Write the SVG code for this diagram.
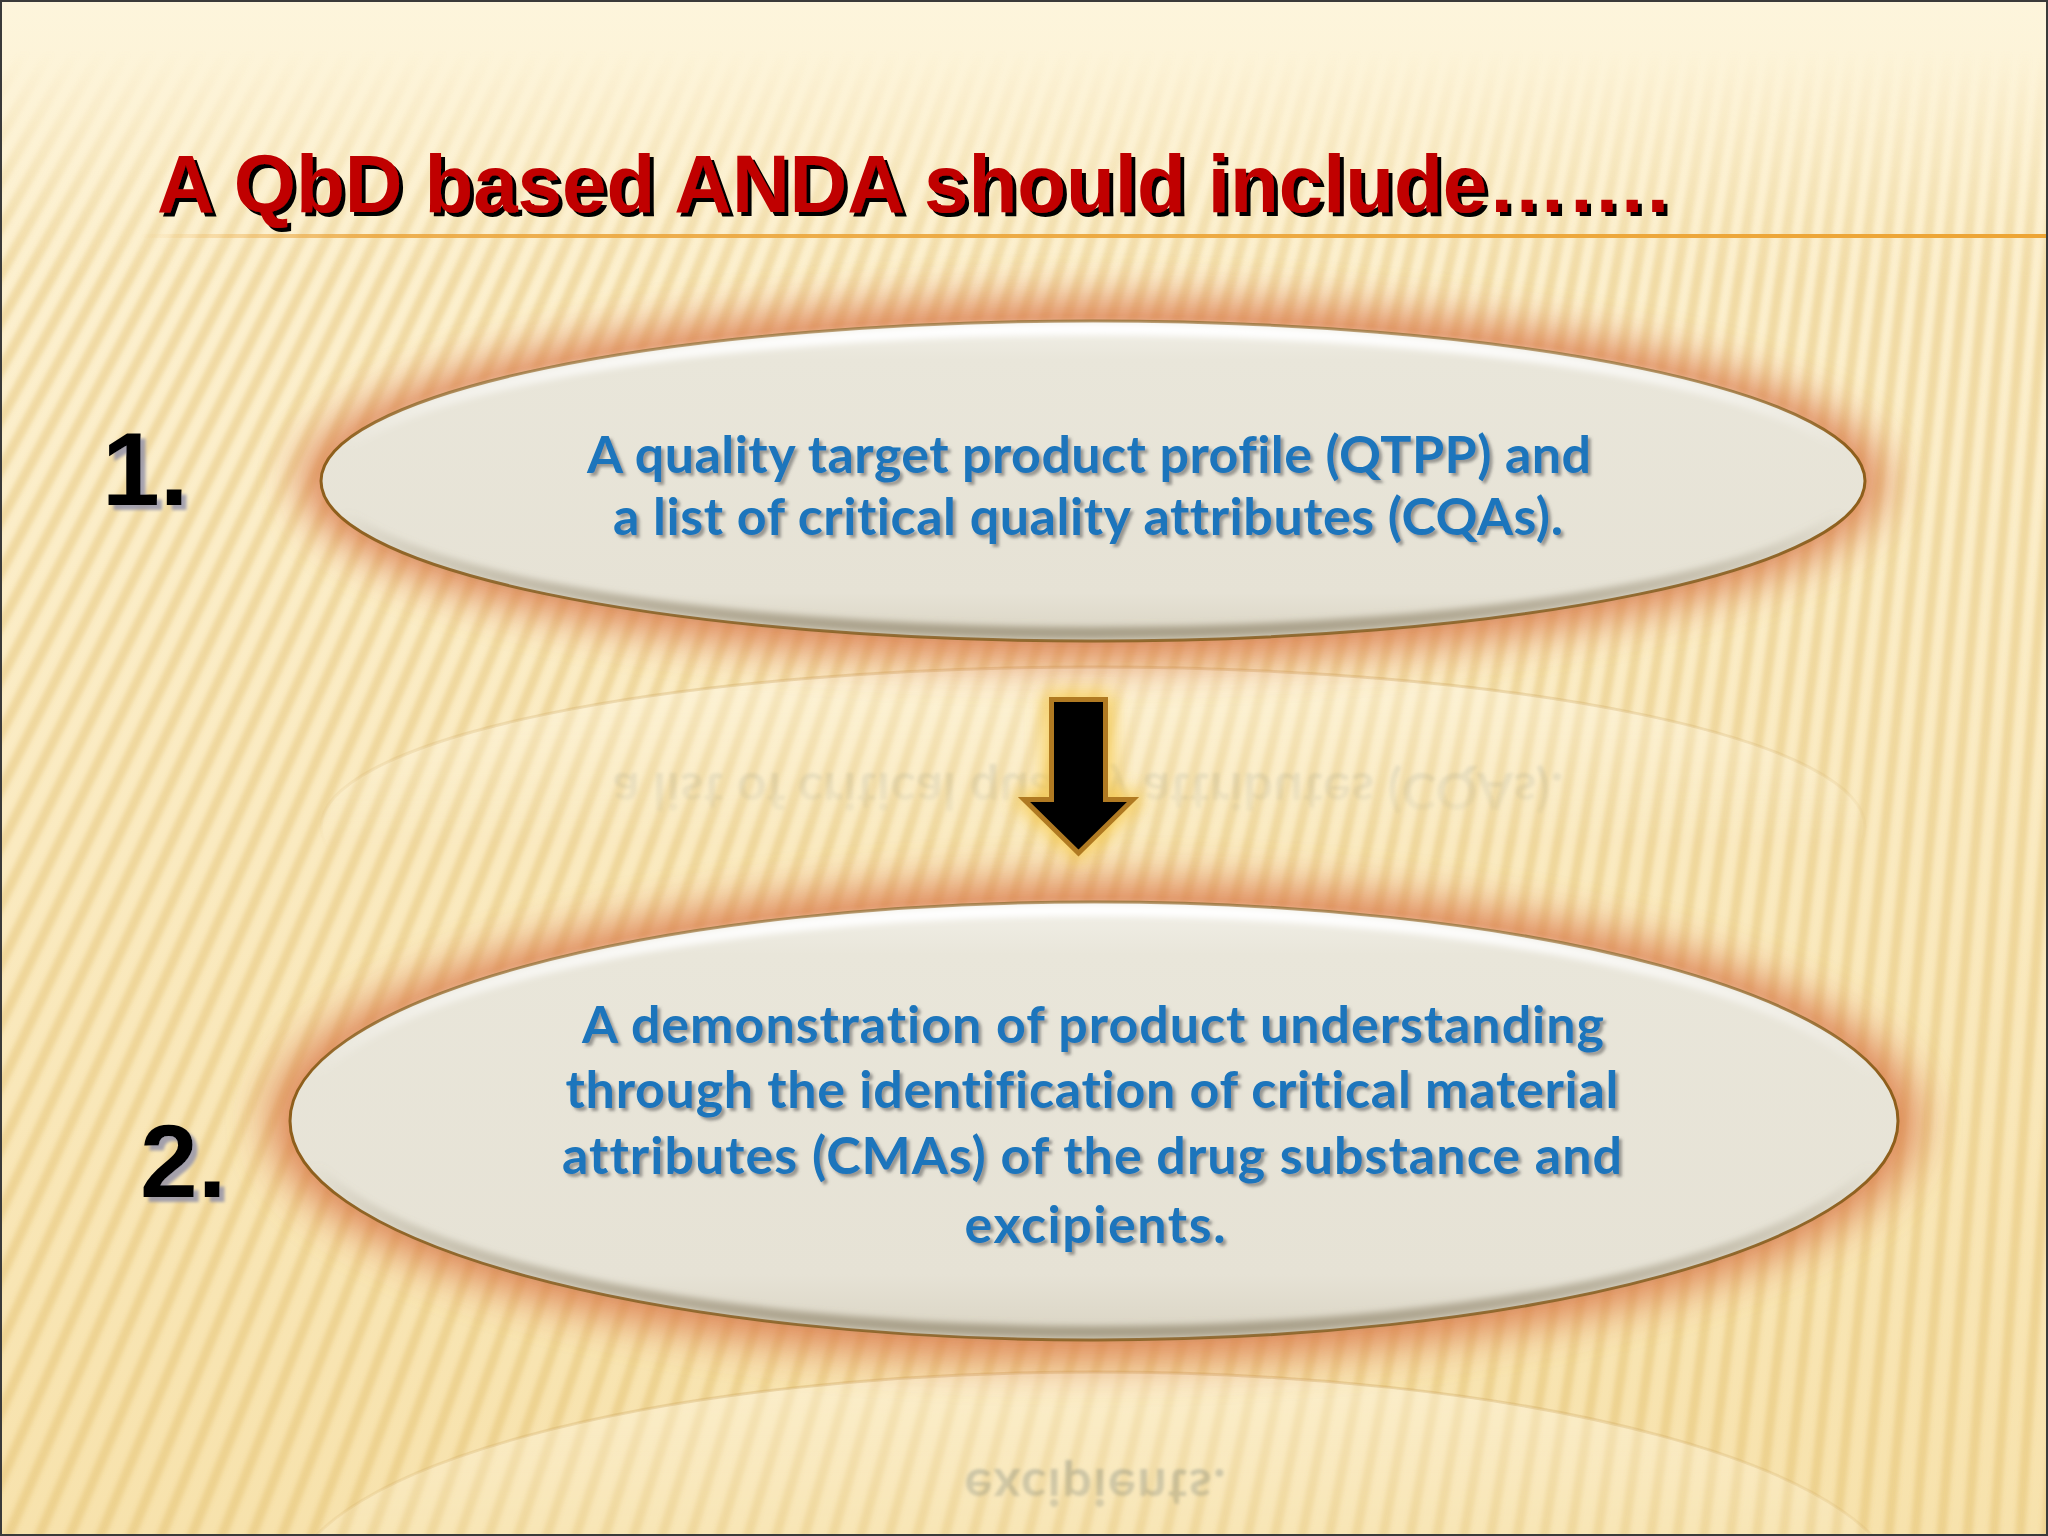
<svg xmlns="http://www.w3.org/2000/svg" width="2048" height="1536" viewBox="0 0 2048 1536">
  <defs>
    <style>
      .title { font-family: "Liberation Sans", Arial, sans-serif; font-weight: bold; font-size: 82px; fill: #C00000; }
      .num { font-family: "Liberation Sans", Arial, sans-serif; font-weight: bold; font-size: 104px; fill: #000000; }
      .body { font-family: Lato, "Open Sans", "Liberation Sans", sans-serif; font-weight: bold; font-size: 52px; fill: #1B75BC; text-anchor: middle; font-variant-ligatures: none; }
      .refl { font-family: Lato, "Open Sans", "Liberation Sans", sans-serif; font-weight: bold; font-size: 52px; fill: #7F8A86; text-anchor: middle; font-variant-ligatures: none; }
      .oval { fill: url(#ovalFill); stroke: #8E5F1C; stroke-width: 3; }
      .bevel { fill: none; stroke: url(#bevelGrad); stroke-width: 12; }
      .glow { fill: #D97848; opacity: 0.9; }
      .reflOval { fill: #FFFBEA; fill-opacity: 0.45; stroke: #C9A05A; stroke-opacity: 0.35; stroke-width: 3; }
      .stripe { stroke: #DDB257; stroke-opacity: 0.34; stroke-width: 10; }
    </style>
    <linearGradient id="bgGrad" x1="0" y1="0" x2="0" y2="1">
      <stop offset="0" stop-color="#FDF5DC"/>
      <stop offset="0.15" stop-color="#FCF0CF"/>
      <stop offset="0.55" stop-color="#FAEAC0"/>
      <stop offset="1" stop-color="#F7E2AC"/>
    </linearGradient>
    <linearGradient id="stripeFade" gradientUnits="userSpaceOnUse" x1="0" y1="50" x2="0" y2="280">
      <stop offset="0" stop-color="#000"/>
      <stop offset="1" stop-color="#fff"/>
    </linearGradient>
    <mask id="stripeMask" maskUnits="userSpaceOnUse" x="0" y="0" width="2048" height="1536">
      <rect x="0" y="0" width="2048" height="1536" fill="url(#stripeFade)"/>
    </mask>
    <filter id="stripeBlur" filterUnits="userSpaceOnUse" x="0" y="0" width="2048" height="1536">
      <feGaussianBlur stdDeviation="2.2"/>
    </filter>
    <g id="s0"><line class="stripe" x1="380" y1="-664" x2="-811.6" y2="1303.5"/></g>
    <g id="s1"><use href="#s0"/><use href="#s0" transform="rotate(-0.27 2400 -4000)"/></g>
    <g id="s2"><use href="#s1"/><use href="#s1" transform="rotate(-0.54 2400 -4000)"/></g>
    <g id="s3"><use href="#s2"/><use href="#s2" transform="rotate(-1.08 2400 -4000)"/></g>
    <g id="s4"><use href="#s3"/><use href="#s3" transform="rotate(-2.16 2400 -4000)"/></g>
    <g id="s5"><use href="#s4"/><use href="#s4" transform="rotate(-4.32 2400 -4000)"/></g>
    <g id="s6"><use href="#s5"/><use href="#s5" transform="rotate(-8.64 2400 -4000)"/></g>
    <g id="s7"><use href="#s6"/><use href="#s6" transform="rotate(-17.28 2400 -4000)"/></g>
    <linearGradient id="lineGrad" gradientUnits="userSpaceOnUse" x1="140" y1="0" x2="2048" y2="0">
      <stop offset="0" stop-color="#EBA53C" stop-opacity="0"/>
      <stop offset="0.12" stop-color="#EBA53C" stop-opacity="0.85"/>
      <stop offset="1" stop-color="#EDA535"/>
    </linearGradient>
    <linearGradient id="ovalFill" x1="0" y1="0" x2="0" y2="1">
      <stop offset="0" stop-color="#F2F0E8"/>
      <stop offset="0.12" stop-color="#E9E6DA"/>
      <stop offset="0.85" stop-color="#E6E2D5"/>
      <stop offset="1" stop-color="#D9D3C2"/>
    </linearGradient>
    <linearGradient id="bevelGrad" x1="0" y1="0" x2="0" y2="1">
      <stop offset="0" stop-color="#FFFFFF" stop-opacity="1"/>
      <stop offset="0.4" stop-color="#FFFFFF" stop-opacity="0"/>
      <stop offset="0.6" stop-color="#9C927A" stop-opacity="0"/>
      <stop offset="1" stop-color="#9C927A" stop-opacity="0.8"/>
    </linearGradient>
    <filter id="glowBlur" x="-20%" y="-50%" width="140%" height="200%">
      <feGaussianBlur stdDeviation="22"/>
    </filter>
    <filter id="softBlur" x="-10%" y="-20%" width="120%" height="140%">
      <feGaussianBlur stdDeviation="3"/>
    </filter>
    <filter id="arrowGlow" x="-100%" y="-50%" width="300%" height="200%">
      <feGaussianBlur stdDeviation="9"/>
    </filter>
    <filter id="reflBlur" x="-10%" y="-50%" width="120%" height="200%">
      <feGaussianBlur stdDeviation="1.5"/>
    </filter>
    <filter id="titleShadow" x="-5%" y="-20%" width="110%" height="150%">
      <feDropShadow dx="4" dy="4" stdDeviation="0.5" flood-color="#000000" flood-opacity="1"/>
    </filter>
    <filter id="numShadow" x="-20%" y="-20%" width="150%" height="150%">
      <feDropShadow dx="5" dy="5" stdDeviation="1.5" flood-color="#8F8FA8" flood-opacity="0.8"/>
    </filter>
    <filter id="textShadow" x="-5%" y="-30%" width="110%" height="170%">
      <feDropShadow dx="3" dy="3" stdDeviation="1.5" flood-color="#555555" flood-opacity="0.55"/>
    </filter>
    <linearGradient id="refFade1" gradientUnits="userSpaceOnUse" x1="0" y1="665" x2="0" y2="850">
      <stop offset="0" stop-color="#fff" stop-opacity="1"/>
      <stop offset="1" stop-color="#fff" stop-opacity="0"/>
    </linearGradient>
    <mask id="refMask1" maskUnits="userSpaceOnUse" x="0" y="600" width="2048" height="400">
      <rect x="0" y="600" width="2048" height="400" fill="url(#refFade1)"/>
    </mask>
    <linearGradient id="refFade2" gradientUnits="userSpaceOnUse" x1="0" y1="1370" x2="0" y2="1620">
      <stop offset="0" stop-color="#fff" stop-opacity="1"/>
      <stop offset="1" stop-color="#fff" stop-opacity="0"/>
    </linearGradient>
    <mask id="refMask2" maskUnits="userSpaceOnUse" x="0" y="1300" width="2048" height="236">
      <rect x="0" y="1300" width="2048" height="236" fill="url(#refFade2)"/>
    </mask>
  </defs>

  <!-- background -->
  <rect x="0" y="0" width="2048" height="1536" fill="url(#bgGrad)"/>
  <g mask="url(#stripeMask)">
    <g filter="url(#stripeBlur)">
      <use href="#s7"/>
    </g>
  </g>

  <!-- title -->
  <g id="title">
    <text class="title" x="157" y="212" textLength="1512" lengthAdjust="spacingAndGlyphs" filter="url(#titleShadow)">A QbD based ANDA should include…….</text>
    <rect x="140" y="234" width="1908" height="4" fill="url(#lineGrad)"/>
  </g>

  <!-- reflections -->
  <g id="reflection-1" mask="url(#refMask1)">
    <ellipse class="reflOval" cx="1093" cy="827" rx="772" ry="160"/>
    <g transform="translate(0,1308) scale(1,-1)" opacity="0.35" filter="url(#reflBlur)">
      <text class="refl" x="1088" y="535" textLength="950" lengthAdjust="spacing">a list of critical quality attributes (CQAs).</text>
    </g>
  </g>
  <g id="reflection-2" mask="url(#refMask2)">
    <ellipse class="reflOval" cx="1094" cy="1591" rx="804" ry="219"/>
    <g transform="translate(0,2712) scale(1,-1)" opacity="0.6" filter="url(#reflBlur)">
      <text class="refl" x="1095" y="1243" textLength="261" lengthAdjust="spacing">excipients.</text>
    </g>
  </g>

  <!-- node 1 -->
  <g id="node-1">
    <ellipse class="glow" cx="1093" cy="481" rx="792" ry="180" filter="url(#glowBlur)"/>
    <ellipse class="oval" cx="1093" cy="481" rx="772" ry="160"/>
    <ellipse class="bevel" cx="1093" cy="481" rx="764" ry="152" filter="url(#softBlur)"/>
    <g filter="url(#textShadow)">
      <text class="body" x="1089" y="473" textLength="1004" lengthAdjust="spacing">A quality target product profile (QTPP) and</text>
      <text class="body" x="1088" y="535" textLength="950" lengthAdjust="spacing">a list of critical quality attributes (CQAs).</text>
    </g>
  </g>

  <!-- node 2 -->
  <g id="node-2">
    <ellipse class="glow" cx="1094" cy="1121" rx="824" ry="239" filter="url(#glowBlur)"/>
    <ellipse class="oval" cx="1094" cy="1121" rx="804" ry="219"/>
    <ellipse class="bevel" cx="1094" cy="1121" rx="796" ry="211" filter="url(#softBlur)"/>
    <g filter="url(#textShadow)">
      <text class="body" x="1093" y="1043" textLength="1022" lengthAdjust="spacing">A demonstration of product understanding</text>
      <text class="body" x="1092" y="1108" textLength="1053" lengthAdjust="spacing">through the identification of critical material</text>
      <text class="body" x="1092" y="1174" textLength="1060" lengthAdjust="spacing">attributes (CMAs) of the drug substance and</text>
      <text class="body" x="1095" y="1243" textLength="261" lengthAdjust="spacing">excipients.</text>
    </g>
  </g>

  <!-- number labels -->
  <g id="label-1">
    <text class="num" x="102" y="505" filter="url(#numShadow)">1.</text>
  </g>
  <g id="label-2">
    <text class="num" x="140" y="1197" filter="url(#numShadow)">2.</text>
  </g>

  <!-- connectors -->
  <g id="connectors">
    <path d="M1051.5,699.5 H1105.5 V799.5 H1133 L1078.5,853 L1024,799.5 H1051.5 Z" fill="#F6C744" stroke="#F6C744" stroke-width="18" stroke-linejoin="round" opacity="0.75" filter="url(#arrowGlow)"/>
    <path d="M1051.5,699.5 H1105.5 V799.5 H1133 L1078.5,853 L1024,799.5 H1051.5 Z" fill="#000000" stroke="#B07A22" stroke-width="5" stroke-linejoin="miter"/>
  </g>

  <!-- frame -->
  <rect x="1" y="1" width="2046" height="1534" fill="none" stroke="#3A3A3A" stroke-width="2"/>
</svg>
